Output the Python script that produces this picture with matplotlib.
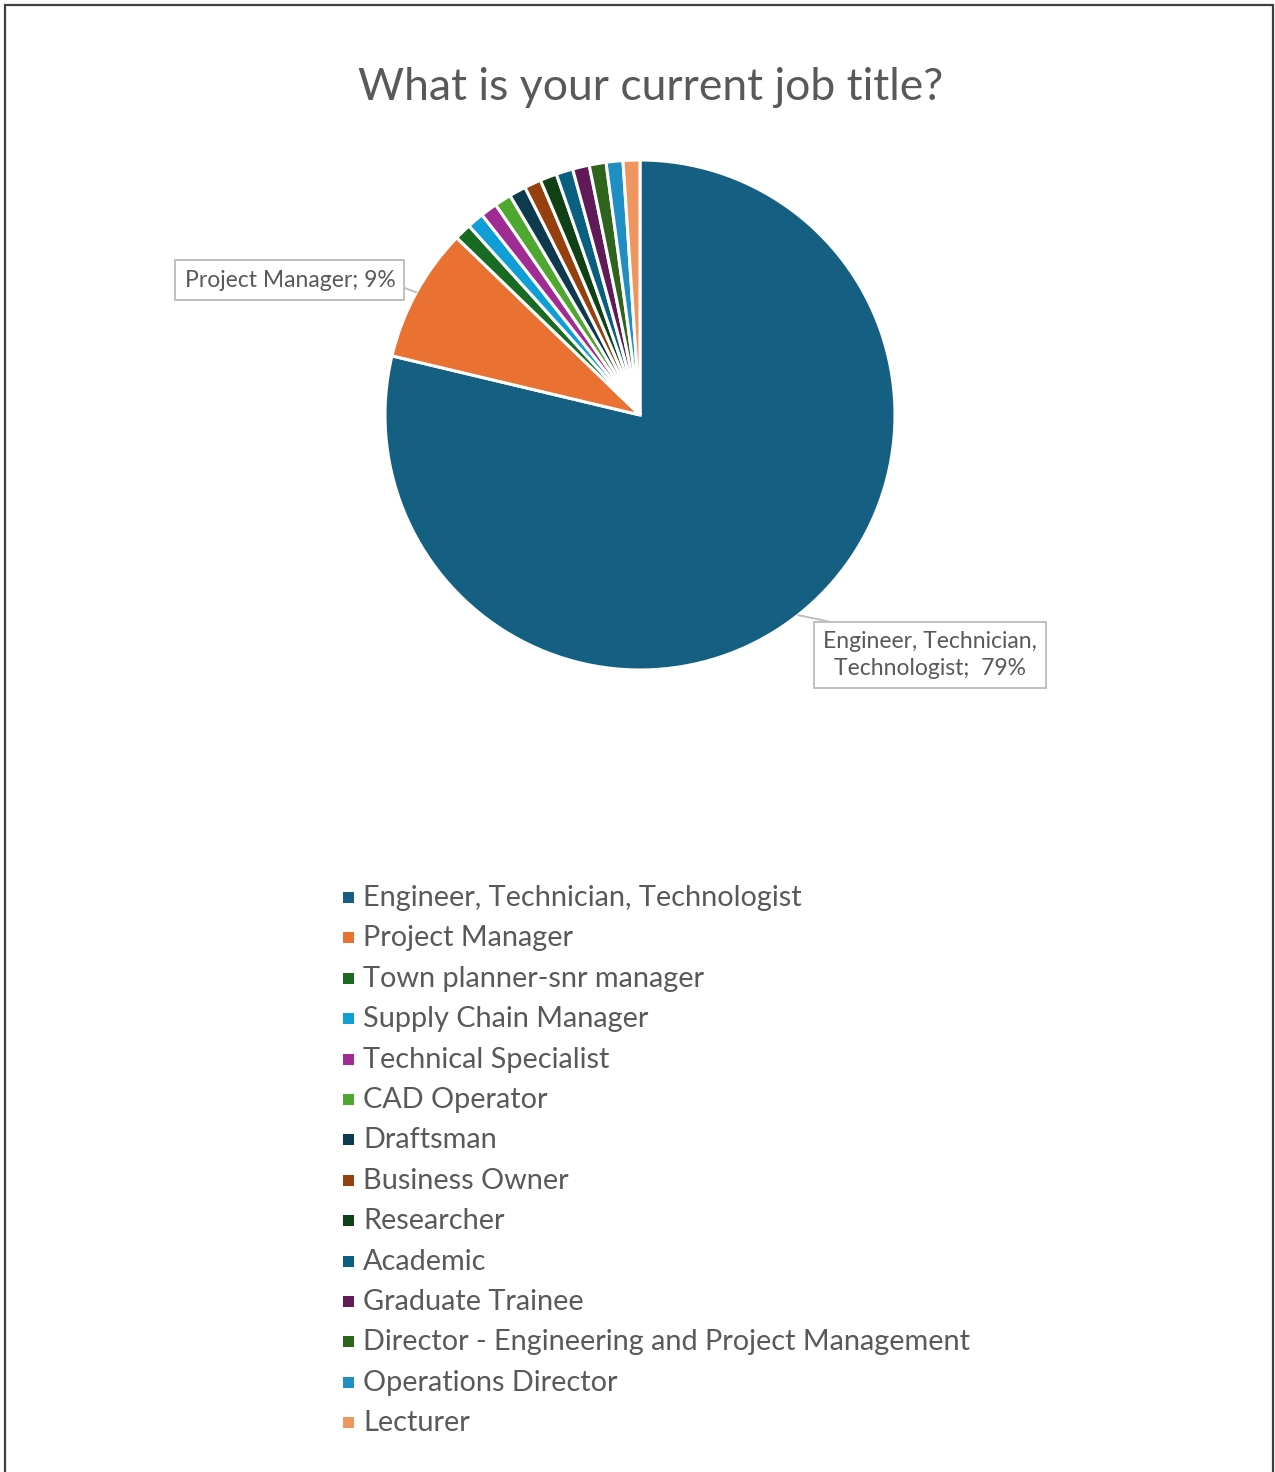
import matplotlib
matplotlib.use("Agg")
import matplotlib.pyplot as plt
from matplotlib.patches import Rectangle
import numpy as np

plt.rcParams['font.family'] = ['Lato', 'DejaVu Sans']

# survey responses per job title
titles = [
    "Engineer, Technician, Technologist",
    "Project Manager",
    "Town planner-snr manager",
    "Supply Chain Manager",
    "Technical Specialist",
    "CAD Operator",
    "Draftsman",
    "Business Owner",
    "Researcher",
    "Academic",
    "Graduate Trainee",
    "Director - Engineering and Project Management",
    "Operations Director",
    "Lecturer",
]
counts = [74, 8, 1, 1, 1, 1, 1, 1, 1, 1, 1, 1, 1, 1]
colors = [
    "#156082", "#E97132", "#196B24", "#0F9ED5", "#A02B93", "#4EA72E",
    "#0D3A4F", "#97400F", "#0F4016", "#095F80", "#601A58", "#2F641C",
    "#1F8EC3", "#EF955F",
]
# slices that get a callout label
callouts = {0: "Engineer, Technician,\nTechnologist;  {p}%", 1: "Project Manager; {p}%"}
callout_pos = {0: (1.137, -0.941), 1: (-1.373, 0.529)}
callout_anchor = {0: (0.25, 1.0), 1: (1.0, 0.3)}

W, H = 1275, 1472
fig = plt.figure(figsize=(W / 100, H / 100), dpi=100)
fig.patch.set_facecolor("white")

# outer chart border
fig.add_artist(Rectangle((5 / W, -0.01), (1273 - 5) / W, (H - 5) / H + 0.01,
                         transform=fig.transFigure, fill=False,
                         edgecolor="#404040", linewidth=1.6))

fig.text(651 / W, 1 - 87 / H, "What is your current job title?",
         ha="center", va="center", fontsize=32, color="#595959")

cx, cy, r = 640, 415, 255
ax = fig.add_axes([(cx - r) / W, 1 - (cy + r) / H, 2 * r / W, 2 * r / H])
wedges, _ = ax.pie(counts, colors=colors, startangle=90, counterclock=False,
                   radius=1, wedgeprops=dict(edgecolor="white", linewidth=2.2))
ax.set_xlim(-1, 1)
ax.set_ylim(-1, 1)
ax.set_aspect("equal")
ax.axis("off")

total = sum(counts)
for i, fmt in callouts.items():
    w = wedges[i]
    mid = np.deg2rad((w.theta1 + w.theta2) / 2)
    pt = (np.cos(mid), np.sin(mid))
    pct = round(100 * counts[i] / total)
    ax.annotate(fmt.format(p=pct), xy=pt, xytext=callout_pos[i],
                ha="center", va="center", fontsize=16.5, color="#595959",
                linespacing=1.3, annotation_clip=False,
                bbox=dict(boxstyle="square,pad=0.4", fc="white",
                          ec="#BFBFBF", lw=1.4),
                arrowprops=dict(arrowstyle="-", color="#BFBFBF", lw=1.4,
                                shrinkA=0, shrinkB=0,
                                relpos=callout_anchor[i]))

# legend rows
y0, dy = 898, 40.4
for i, (t, c) in enumerate(zip(titles, colors)):
    y = y0 + i * dy
    fig.add_artist(Rectangle((343 / W, 1 - (y + 5) / H), 11 / W, 11 / H,
                             transform=fig.transFigure, facecolor=c,
                             edgecolor="none"))
    fig.text(363 / W, 1 - y / H, t, ha="left", va="center",
             fontsize=20.8, color="#595959")

fig.savefig("out.png", dpi=100)
